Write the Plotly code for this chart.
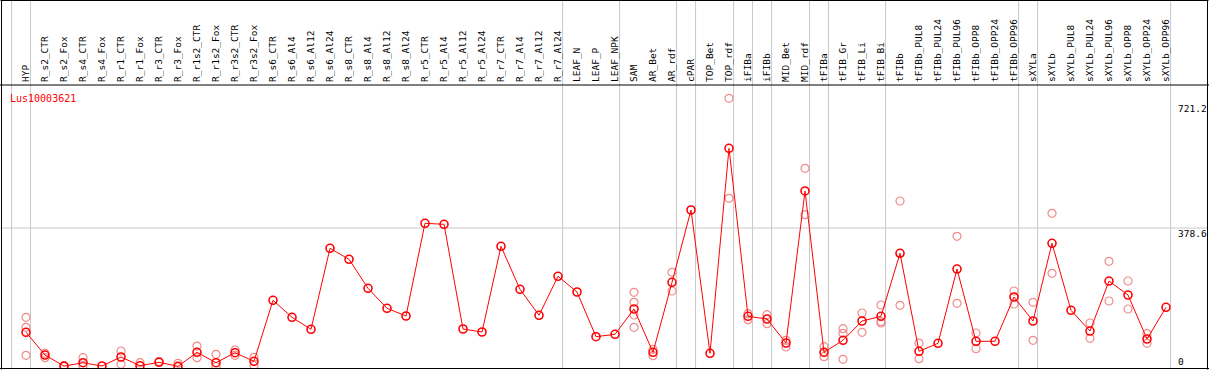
import plotly.graph_objects as go

categories = ["HYP", "R_s2_CTR", "R_s2_Fox", "R_s4_CTR", "R_s4_Fox", "R_r1_CTR", "R_r1_Fox",
              "R_r3_CTR", "R_r3_Fox", "R_r1s2_CTR", "R_r1s2_Fox", "R_r3s2_CTR", "R_r3s2_Fox",
              "R_s6_CTR", "R_s6_Al4", "R_s6_Al12", "R_s6_Al24", "R_s8_CTR", "R_s8_Al4", "R_s8_Al12",
              "R_s8_Al24", "R_r5_CTR", "R_r5_Al4", "R_r5_Al12", "R_r5_Al24", "R_r7_CTR", "R_r7_Al4",
              "R_r7_Al12", "R_r7_Al24", "LEAF_N", "LEAF_P", "LEAF_NPK", "SAM", "AR_Bet", "AR_rdf",
              "cPAR", "TOP_Bet", "TOP_rdf", "iFIBa", "iFIBb", "MID_Bet", "MID_rdf", "tFIBa",
              "tFIB_Gr", "tFIB_Li", "tFIB_Bi", "tFIBb", "tFIBb_PUL8", "tFIBb_PUL24", "tFIBb_PUL96",
              "tFIBb_OPP8", "tFIBb_OPP24", "tFIBb_OPP96", "sXYLa", "sXYLb", "sXYLb_PUL8",
              "sXYLb_PUL24", "sXYLb_PUL96", "sXYLb_OPP8", "sXYLb_OPP24", "sXYLb_OPP96"]

mean_values = [93.5, 31.4, 1.0, 10.4, 1.4, 26.0, 2.2, 11.5, 0.5, 38.8, 10.4, 37.7, 14.2,
               181.0, 134.5, 101.7, 323.1, 293.1, 213.8, 159.1, 138.1, 391.5, 388.7, 102.5, 94.3,
               328.6, 211.0, 140.0, 246.6, 203.7, 81.5, 88.0, 157.2, 38.8, 230.2, 427.8, 36.1,
               596.5, 137.2, 129.9, 64.2, 479.8, 38.8, 71.6, 124.4, 137.2, 309.5, 41.6, 63.4,
               266.5, 68.9, 68.9, 190.0, 124.4, 336.8, 153.6, 97.0, 233.7, 195.5, 75.2, 161.8]

replicate_values = [
    [134.5, 107.2, 30.6], [36.1, 24.1], [2.2], [24.1, 1.4], [], [42.4, 6.0], [10.4],
    [14.2], [8.7], [56.0, 24.1], [33.4, 0.0], [45.1, 30.6], [25.2, 2.2],
    [], [], [], [], [], [], [], [], [], [], [], [], [], [], [], [], [], [], [],
    [202.8, 175.5, 140.8, 107.2], [47.0, 29.5], [257.5, 206.4], [], [],
    [733.2, 459.8], [144.3, 127.9], [141.6, 117.0], [71.6, 53.3], [541.8, 415.0],
    [54.1, 26.8], [103.3, 90.8, 19.7], [146.3, 93.5], [168.1, 122.5, 118.9],
    [452.4, 167.3], [64.2, 21.3], [], [355.9, 172.8], [91.6, 48.7], [], [206.4, 170.9],
    [175.5, 71.6], [418.8, 254.8], [], [118.9, 77.1], [287.6, 179.1], [233.7, 157.2],
    [89.7, 63.4], []]

group_ends = ["HYP", "R_r7_Al24", "LEAF_NPK", "AR_rdf", "cPAR", "TOP_rdf", "iFIBa", "iFIBb",
              "MID_rdf", "tFIBa", "tFIB_Bi", "tFIBb_OPP96", "sXYLa", "sXYLb_OPP96"]

gene_name = "Lus10003621"
scale_labels = [721.2, 378.6, 0]
grid_value = 378.6

W, H = 1209, 370
ML, MR, MT, MB = 1, 1, 85, 1
PW, PH = W - ML - MR, H - MT - MB


def px_x(px):
    return (px - ML) / PW


def px_y(py):
    return (H - MB - py) / PH


xs = list(range(len(categories)))
rx, ry = [], []
for i, reps in enumerate(replicate_values):
    for v in reps:
        rx.append(i)
        ry.append(v)

fig = go.Figure()
fig.add_trace(go.Scatter(
    x=rx, y=ry, mode="markers",
    marker=dict(symbol="circle-open", size=8, color="rgb(240,140,140)",
                line=dict(width=1.2, color="rgb(240,140,140)")),
    hoverinfo="skip", showlegend=False))
fig.add_trace(go.Scatter(
    x=xs, y=mean_values, mode="lines+markers",
    line=dict(color="#ff0000", width=1),
    marker=dict(symbol="circle-open", size=8, color="#ff0000",
                line=dict(width=1.6, color="#ff0000")),
    showlegend=False))

shapes = []
# group separators
for name in ["__start__"] + group_ends:
    k = -1 if name == "__start__" else categories.index(name)
    xv = k + 0.24
    shapes.append(dict(type="line", xref="x", yref="paper", x0=xv, x1=xv,
                       y0=0, y1=px_y(0), line=dict(color="#c8c8c8", width=1), layer="below"))
# horizontal grid line
shapes.append(dict(type="line", xref="paper", yref="y", x0=0, x1=1, y0=grid_value, y1=grid_value,
                   line=dict(color="#c8c8c8", width=1), layer="below"))
# frame
blk = dict(color="black", width=1)
shapes += [
    dict(type="line", xref="paper", yref="paper", x0=px_x(0.5), x1=px_x(1208.5), y0=px_y(0.5), y1=px_y(0.5), line=blk),
    dict(type="line", xref="paper", yref="paper", x0=px_x(1.5), x1=px_x(1.5), y0=px_y(0), y1=px_y(369.5), line=blk),
    dict(type="line", xref="paper", yref="paper", x0=px_x(1207.5), x1=px_x(1207.5), y0=px_y(0), y1=px_y(369.5), line=blk),
    dict(type="line", xref="paper", yref="paper", x0=px_x(0), x1=px_x(1209), y0=px_y(368.5), y1=px_y(368.5), line=blk),
    dict(type="line", xref="paper", yref="paper", x0=px_x(0), x1=px_x(1209), y0=1, y1=1, line=blk),
]

annotations = [dict(text=gene_name, xref="paper", yref="paper", x=px_x(8), y=px_y(91),
                    xanchor="left", yanchor="top", showarrow=False,
                    font=dict(family="DejaVu Sans Mono", size=10, color="#ff0000"))]
for v in scale_labels:
    annotations.append(dict(text=str(v) if v else "0", xref="paper", yref="y", x=px_x(1176), y=v,
                            xanchor="left", yanchor="bottom" if v == 0 else "top",
                            yshift=-2 if v == 0 else 2,
                            showarrow=False, font=dict(family="DejaVu Sans Mono", size=9.5, color="black")))

fig.update_layout(
    width=W, height=H, margin=dict(l=ML, r=MR, t=MT, b=MB, pad=0),
    paper_bgcolor="white", plot_bgcolor="rgba(0,0,0,0)",
    shapes=shapes, annotations=annotations, showlegend=False,
    xaxis=dict(range=[-1.316, 62.21], side="top", tickmode="array", tickvals=xs, ticktext=categories,
               tickangle=-90, ticks="", showgrid=False, zeroline=False, showline=False,
               tickfont=dict(family="DejaVu Sans Mono", size=9.5, color="black"),
               ticklabelstandoff=2, fixedrange=True),
    yaxis=dict(range=[-6.8, 769.5], showticklabels=False, ticks="", showgrid=False,
               zeroline=False, showline=False, fixedrange=True),
)

fig.write_html("out.html", config={"displayModeBar": False},
               post_script="document.body.style.margin='0';document.body.style.overflow='hidden';")
